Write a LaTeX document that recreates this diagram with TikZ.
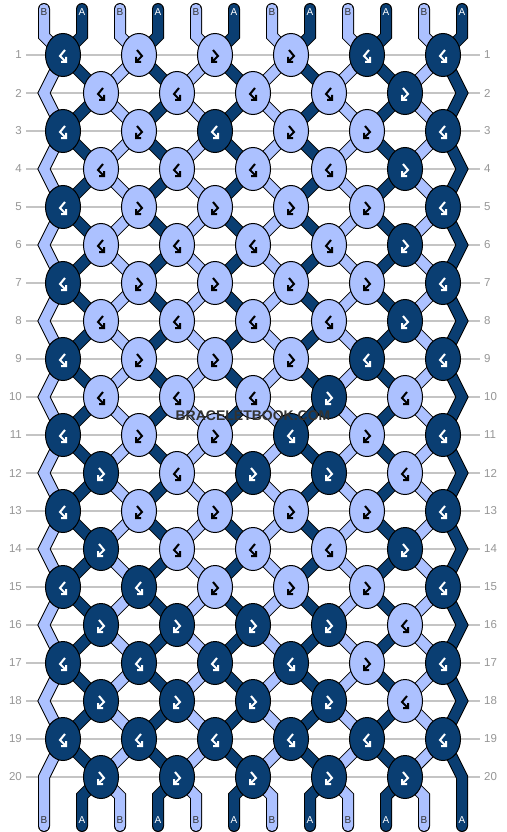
\documentclass[tikz,border=0pt]{standalone}
\usepackage{fontspec}
\setmainfont{Liberation Sans}
\usetikzlibrary{shapes.geometric}
\definecolor{dk}{RGB}{10,62,114}
\definecolor{lt}{RGB}{172,193,255}
\definecolor{gridc}{RGB}{196,196,196}
\definecolor{labc}{RGB}{150,150,150}
\definecolor{wmc}{RGB}{50,50,50}
\newcommand\knotrow[2]{%
  \foreach \c [count=\k from 0] in {#2}{%
    \ifodd#1\relax \pgfmathsetmacro\kx{63+76*\k}\else \pgfmathsetmacro\kx{101+76*\k}\fi
    \pgfmathsetmacro\ky{55+38*(#1-1)}%
    \ifnum\c=1\relax \def\knfill{dk}\def\glc{white}\else \def\knfill{lt}\def\glc{black}\fi
    \node[knot, fill=\knfill] (K-#1-\k) at (\kx,\ky) {};
    \pgfmathtruncatemacro\isbf{isodd(#1)==\c ? 1 : 0}%
    \ifnum\isbf=1\relax
      \draw[glyph=\glc] ([shift={(2,-5)}]K-#1-\k.center) -- ([shift={(-3,1)}]K-#1-\k.center) -- ([shift={(3,7)}]K-#1-\k.center)
        ([shift={(3,2)}]K-#1-\k.center) -- ([shift={(3,7)}]K-#1-\k.center) -- ([shift={(-2,7)}]K-#1-\k.center);
    \else
      \draw[glyph=\glc] ([shift={(-2,-5)}]K-#1-\k.center) -- ([shift={(3,1)}]K-#1-\k.center) -- ([shift={(-3,7)}]K-#1-\k.center)
        ([shift={(-3,2)}]K-#1-\k.center) -- ([shift={(-3,7)}]K-#1-\k.center) -- ([shift={(2,7)}]K-#1-\k.center);
    \fi
  }%
}
\begin{document}
\begin{tikzpicture}[x=1pt,y=-1pt,
  knot/.style={ellipse, draw=black, line width=1pt, minimum width=35pt, minimum height=43pt, inner sep=0pt},
  glyph/.style={draw=#1, line width=2pt, line cap=butt, line join=miter},
  strand/.style={draw=#1, line width=10pt, line cap=round, line join=miter,
     preaction={draw=black, line width=12pt, line cap=round, line join=miter}},
  gridline/.style={draw=gridc, line width=1.5pt},
  rowlab/.style={text=labc, font=\fontsize{11.5}{12}\selectfont, inner sep=0pt},
  endlab/.style={font=\fontsize{10}{10}\selectfont, inner sep=0pt},
  wm/.style={font=\bfseries\fontsize{14}{14}\selectfont, inner sep=0pt}]
\useasboundingbox (0,0) rectangle (506,832);
\fill[white] (0,0) rectangle (506,832);
% grid lines and row labels
\foreach \r in {1,...,20}{
  \pgfmathsetmacro\ry{55+38*(\r-1)}
  \draw[gridline] (26,\ry) -- (480,\ry);
  \node[rowlab, anchor=east] (L\r) at (22,\ry) {\r};
  \node[rowlab, anchor=west] (R\r) at (484,\ry) {\r};
}
% strand coordinates
\foreach \i in {0,...,11}{
  \foreach \r in {1,...,20}{
    \ifodd\r\relax
      \ifodd\i\relax \def\dx{-19}\else \def\dx{+19}\fi
    \else
      \ifodd\i\relax \def\dx{+19}\else \def\dx{-19}\fi
      \ifnum\i=0\relax \def\dx{+0}\fi
      \ifnum\i=11\relax \def\dx{+0}\fi
    \fi
    \coordinate (P-\i-\r) at ({44+38*\i\dx},{55+38*(\r-1)});
  }
}
% strands
\foreach \i in {0,...,11}{
  \pgfmathsetmacro\xs{44+38*\i}
  \ifodd\i\relax \def\strcol{dk}\else \def\strcol{lt}\fi
  \draw[strand=\strcol] (\xs,9) -- (\xs,36) \foreach \r in {1,...,20}{ -- (P-\i-\r)} -- (\xs,796) -- (\xs,826);
}
% end labels
\foreach \i in {0,...,11}{
  \pgfmathsetmacro\xs{44+38*\i}
  \ifodd\i\relax
    \node[endlab, text=white] (T\i) at (\xs,12.5) {A};
    \node[endlab, text=white] (B\i) at (\xs,820) {A};
  \else
    \node[endlab, text=black!80] (T\i) at (\xs,12.5) {B};
    \node[endlab, text=black!80] (B\i) at (\xs,820) {B};
  \fi
}
% knots
\knotrow{1}{1,0,0,0,1,1}
\knotrow{2}{0,0,0,0,1}
\knotrow{3}{1,0,1,0,0,1}
\knotrow{4}{0,0,0,0,1}
\knotrow{5}{1,0,0,0,0,1}
\knotrow{6}{0,0,0,0,1}
\knotrow{7}{1,0,0,0,0,1}
\knotrow{8}{0,0,0,0,1}
\knotrow{9}{1,0,0,0,1,1}
\knotrow{10}{0,0,0,1,0}
\knotrow{11}{1,0,0,1,0,1}
\knotrow{12}{1,0,1,1,0}
\knotrow{13}{1,0,0,0,0,1}
\knotrow{14}{1,0,0,0,1}
\knotrow{15}{1,1,0,0,0,1}
\knotrow{16}{1,1,1,1,0}
\knotrow{17}{1,1,1,1,0,1}
\knotrow{18}{1,1,1,1,0}
\knotrow{19}{1,1,1,1,1,1}
\knotrow{20}{1,1,1,1,1}
% watermark
\node[wm, text=wmc] (wmark) at (253,416) {BRACELETBOOK.COM};
\end{tikzpicture}
\end{document}
